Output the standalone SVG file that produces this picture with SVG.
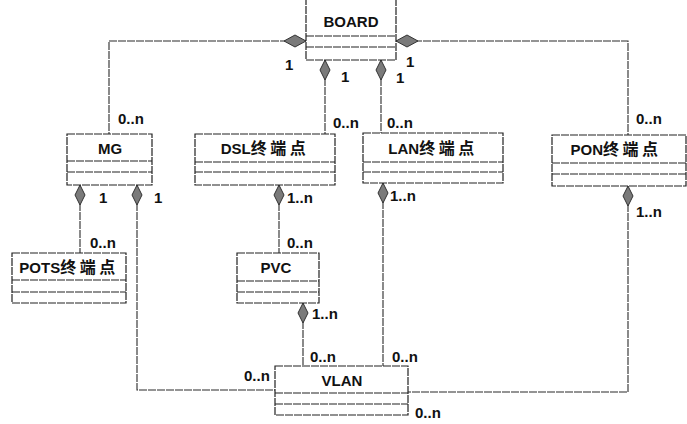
<svg xmlns="http://www.w3.org/2000/svg" width="687" height="424" viewBox="0 0 687 424">
<style>
.box{fill:#fff;stroke:#222;stroke-width:1.2;stroke-dasharray:8 1}
.div{stroke:#222;stroke-width:1.2;stroke-dasharray:8 1}
.t{font-family:"Liberation Sans","Noto Sans CJK SC",sans-serif;font-weight:bold;font-size:15px;fill:#111;text-anchor:middle}
.cj{font-size:16px;letter-spacing:3.5px}
.lb{font-family:"Liberation Sans",sans-serif;font-weight:bold;font-size:15px;fill:#111}
.c{fill:none;stroke:#2a2a2a;stroke-width:1.1;stroke-dasharray:8 1}
</style>
<defs>
<marker id="dmH" markerUnits="userSpaceOnUse" markerWidth="24" markerHeight="14" refX="0" refY="6" orient="auto" viewBox="0 0 24 14" overflow="visible">
<path d="M0,6 L11,0 L22,6 L11,12 Z" fill="#7a7a7a" stroke="#333" stroke-width="1"/>
</marker>
<marker id="dmV" markerUnits="userSpaceOnUse" markerWidth="22" markerHeight="12" refX="0" refY="5" orient="auto" viewBox="0 0 22 12" overflow="visible">
<path d="M0,5 L10,0 L20,5 L10,10 Z" fill="#7a7a7a" stroke="#333" stroke-width="1"/>
</marker>
</defs>

<g id="connectors">
<path class="c" d="M306,41 H109 V134" marker-start="url(#dmH)"/>
<path class="c" d="M325,60 V134" marker-start="url(#dmV)"/>
<path class="c" d="M381,60 V133" marker-start="url(#dmV)"/>
<path class="c" d="M396,41 H628 V135" marker-start="url(#dmH)"/>
<path class="c" d="M80,185 V253" marker-start="url(#dmV)"/>
<path class="c" d="M137,185 V390 H275" marker-start="url(#dmV)"/>
<path class="c" d="M279,185 V253" marker-start="url(#dmV)"/>
<path class="c" d="M303,303 V366" marker-start="url(#dmV)"/>
<path class="c" d="M383,183 V366" marker-start="url(#dmV)"/>
<path class="c" d="M628,186 V392 H408" marker-start="url(#dmV)"/>
<g class="lb">
<text x="285" y="70">1</text>
<text x="341" y="82">1</text>
<text x="396" y="83">1</text>
<text x="406" y="67">1</text>
<text x="118" y="124">0..n</text>
<text x="333" y="128">0..n</text>
<text x="387" y="128">0..n</text>
<text x="636" y="124">0..n</text>
<text x="99" y="203">1</text>
<text x="154" y="203">1</text>
<text x="90" y="248">0..n</text>
<text x="287" y="203">1..n</text>
<text x="287" y="248">0..n</text>
<text x="390" y="201">1..n</text>
<text x="636" y="217">1..n</text>
<text x="312" y="319">1..n</text>
<text x="310" y="362">0..n</text>
<text x="392" y="362">0..n</text>
<text x="244" y="381">0..n</text>
<text x="415" y="418">0..n</text>
</g>
</g>

<g id="board">
<rect class="box" x="306" y="-2" width="90" height="62"/>
<line class="div" x1="306" y1="36" x2="396" y2="36"/>
<line class="div" x1="306" y1="47" x2="396" y2="47"/>
<text class="t" x="351" y="27">BOARD</text>
</g>
<g id="mg">
<rect class="box" x="67" y="134" width="85" height="51"/>
<line class="div" x1="67" y1="161" x2="152" y2="161"/>
<line class="div" x1="67" y1="172" x2="152" y2="172"/>
<text class="t" x="110" y="154">MG</text>
</g>
<g id="dsl">
<rect class="box" x="195" y="134" width="140" height="51"/>
<line class="div" x1="195" y1="162" x2="335" y2="162"/>
<line class="div" x1="195" y1="172" x2="335" y2="172"/>
<text class="t" x="265" y="154">DSL<tspan class="cj">终端点</tspan></text>
</g>
<g id="lan">
<rect class="box" x="363" y="133" width="140" height="50"/>
<line class="div" x1="363" y1="162" x2="503" y2="162"/>
<line class="div" x1="363" y1="172" x2="503" y2="172"/>
<text class="t" x="433" y="154">LAN<tspan class="cj">终端点</tspan></text>
</g>
<g id="pon">
<rect class="box" x="552" y="135" width="134" height="51"/>
<line class="div" x1="552" y1="163" x2="686" y2="163"/>
<line class="div" x1="552" y1="174" x2="686" y2="174"/>
<text class="t" x="616" y="155">PON<tspan class="cj">终端点</tspan></text>
</g>
<g id="pots">
<rect class="box" x="12" y="253" width="114" height="50"/>
<line class="div" x1="12" y1="280" x2="126" y2="280"/>
<line class="div" x1="12" y1="292" x2="126" y2="292"/>
<text class="t" x="69" y="273">POTS<tspan class="cj">终端点</tspan></text>
</g>
<g id="pvc">
<rect class="box" x="237" y="253" width="82" height="50"/>
<line class="div" x1="237" y1="281" x2="319" y2="281"/>
<line class="div" x1="237" y1="292" x2="319" y2="292"/>
<text class="t" x="276" y="273">PVC</text>
</g>
<g id="vlan">
<rect class="box" x="275" y="366" width="133" height="49"/>
<line class="div" x1="275" y1="393" x2="408" y2="393"/>
<line class="div" x1="275" y1="404" x2="408" y2="404"/>
<text class="t" x="342" y="386">VLAN</text>
</g>
</svg>
